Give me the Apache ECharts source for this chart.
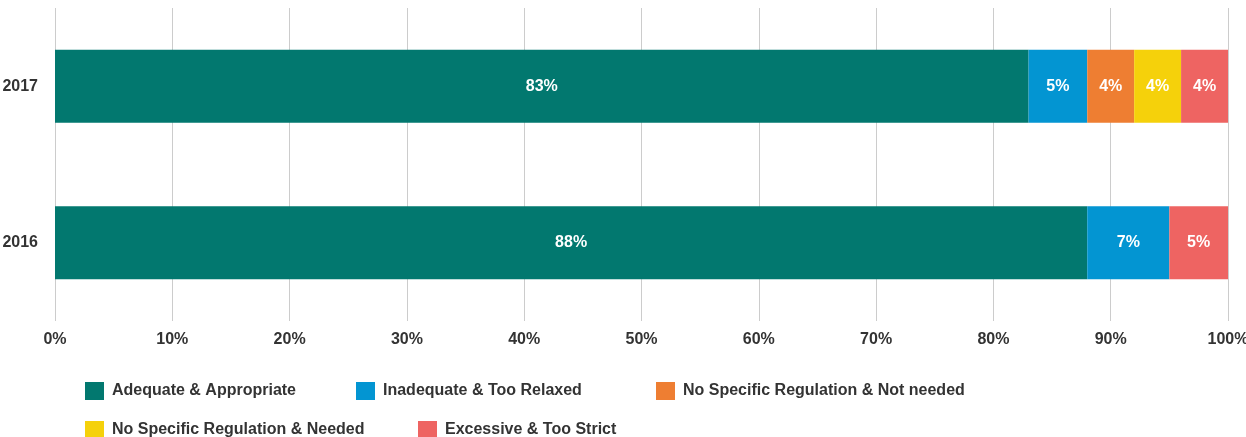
<!DOCTYPE html>
<html><head><meta charset="utf-8">
<script src="https://cdn.jsdelivr.net/npm/echarts@6/dist/echarts.min.js"></script>
<style>html,body{margin:0;padding:0;background:#fff}#c{width:1246px;height:437px}</style>
</head><body><div id="c"></div>
<script>
const categories = ['2016', '2017'];
const seriesNames = ['Adequate & Appropriate', 'Inadequate & Too Relaxed', 'No Specific Regulation & Not needed', 'No Specific Regulation & Needed', 'Excessive & Too Strict'];
const adequate = [88, 83];
const inadequate = [7, 5];
const notNeeded = [0, 4];
const needed = [0, 4];
const excessive = [5, 4];
const tickLabels = ['0%','10%','20%','30%','40%','50%','60%','70%','80%','90%','100%'];

const colors = ['#02786F', '#0395D2', '#EE7E32', '#F5D10B', '#EE6462'];
const values = [adequate, inadequate, notNeeded, needed, excessive];
const font = '"Liberation Sans", Arial, Helvetica, sans-serif';

const legendPos = [[80, 377], [351, 377], [651, 377], [80, 416], [413, 416]];

const chart = echarts.init(document.getElementById('c'));
chart.setOption({
  animation: false,
  grid: { left: 55, right: 18, top: 8, bottom: 116, outerBoundsMode: 'none', containLabel: false },
  xAxis: {
    type: 'value', min: 0, max: 100, interval: 10,
    axisLine: { show: false }, axisTick: { show: false },
    splitLine: { lineStyle: { color: '#cccccc', width: 1 } },
    axisLabel: { formatter: v => tickLabels[v / 10], color: '#333', fontWeight: 'bold', fontSize: 16, fontFamily: font, margin: 11 }
  },
  yAxis: {
    type: 'category', data: categories,
    axisLine: { show: false }, axisTick: { show: false },
    axisLabel: { color: '#333', fontWeight: 'bold', fontSize: 16, fontFamily: font, margin: 17 }
  },
  legend: legendPos.map((p, i) => ({
    data: [seriesNames[i]], left: p[0], top: p[1],
    itemWidth: 19, itemHeight: 18, itemGap: 0, icon: 'rect',
    textStyle: { color: '#333', fontWeight: 'bold', fontSize: 16, fontFamily: font, padding: [0, 0, 0, 3] }
  })),
  series: values.map((d, i) => ({
    name: seriesNames[i], type: 'bar', stack: 'total', data: d,
    barWidth: 73,
    itemStyle: { color: colors[i] },
    label: { show: true, position: 'inside', color: '#fff', fontWeight: 'bold', fontSize: 16, fontFamily: font,
      formatter: p => p.value ? p.value + '%' : '' }
  }))
});
</script></body></html>
